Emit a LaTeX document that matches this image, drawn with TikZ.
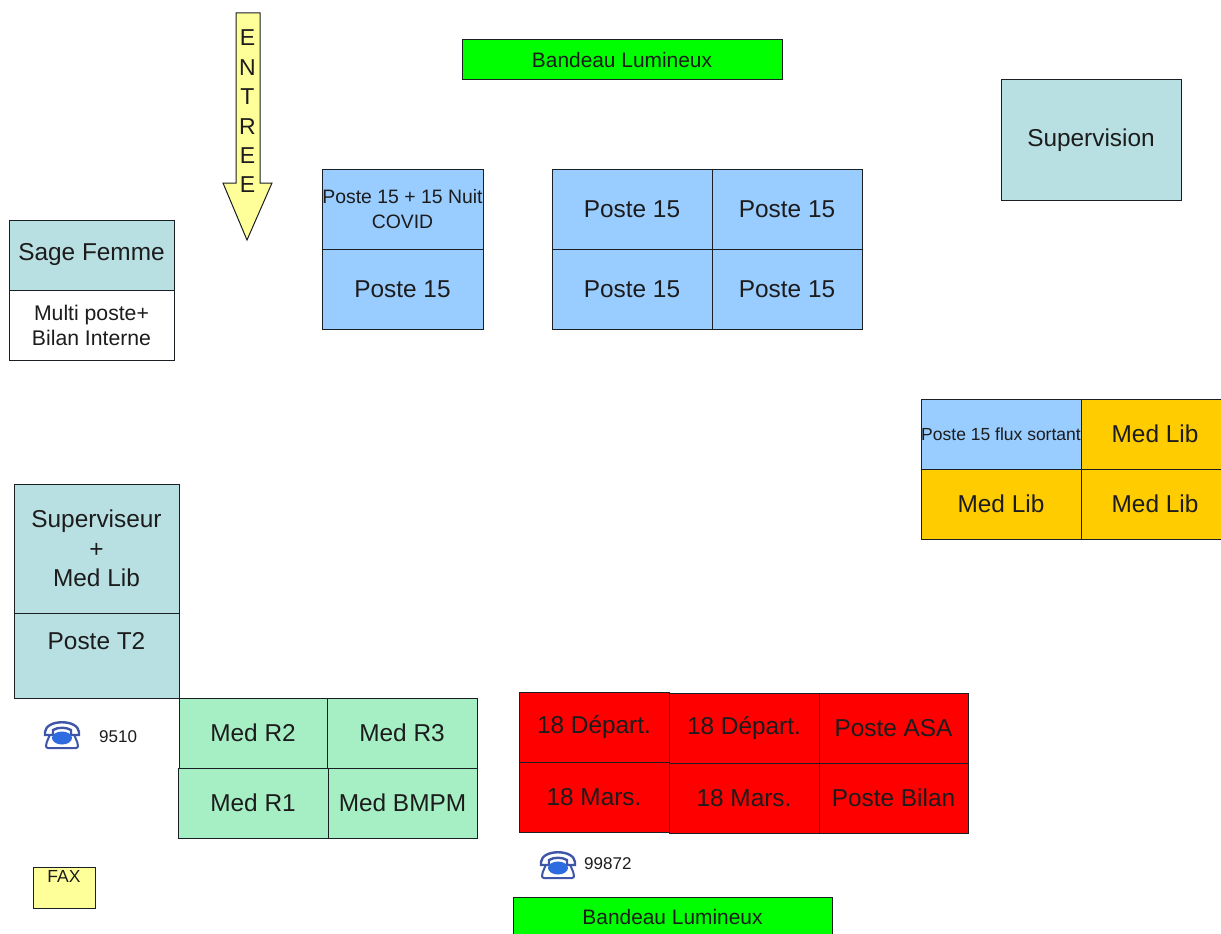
\documentclass[tikz,border=0pt]{standalone}
\usepackage{fontspec}
\setmainfont{Liberation Sans}
\definecolor{inkdark}{HTML}{1C1C1C}
\definecolor{edge}{HTML}{1A1F24}
\definecolor{bluecell}{HTML}{99CCFF}
\definecolor{tealcell}{HTML}{B8DFE2}
\definecolor{ambercell}{HTML}{FFCC00}
\definecolor{mintcell}{HTML}{A6EFC4}
\definecolor{redcell}{HTML}{FF0000}
\definecolor{greencell}{HTML}{00FF00}
\definecolor{yellowcell}{HTML}{FFFF99}
\definecolor{phoneline}{HTML}{3E55A8}
\definecolor{phonefill}{HTML}{2F6BE0}
\tikzset{
  cellbox/.style={draw=edge,line width=1pt,inner sep=0pt,outer sep=0pt,align=center,text=inkdark,font=\fontsize{24.4}{29.5}\selectfont},
  midtext/.style={font=\fontsize{20.9}{25}\selectfont},
  smalltext/.style={font=\fontsize{19.4}{25}\selectfont},
  tinytext/.style={font=\fontsize{17.5}{20}\selectfont},
  plaintext/.style={inner sep=0pt,text=inkdark,font=\fontsize{17}{20}\selectfont},
}
% \cell[options]{name}{x1}{y1}{x2}{y2}{text}
\newcommand{\cell}[7][]{%
  \node[cellbox,#1,minimum width={(#5-#3)*1pt},minimum height={(#6-#4)*1pt}] (#2) at ({(#3+#5)/2},{(#4+#6)/2}) {#7};}
\newcommand{\phoneicon}[2]{%
  \begin{scope}[shift={(#1,#2)}]
    \draw[phoneline,line width=2pt,fill=white,rounded corners=2pt] (-11,-3) -- (-6,-8) -- (6,-8) -- (11,-3) -- (16,9) -- (16,13) -- (-16,13) -- (-16,9) -- cycle;
    \draw[phoneline,line width=2.4pt,fill=white] (-17,-3) .. controls (-16,-16) and (16,-16) .. (17,-3) -- (17,0) -- (9,0) -- (9,-5) .. controls (4,-8) and (-4,-8) .. (-9,-5) -- (-9,0) -- (-17,0) -- cycle;
    \fill[phonefill] (0,3) ellipse [x radius=10,y radius=6.5];
  \end{scope}}
\begin{document}
\begin{tikzpicture}[x=1pt,y=-1pt]
\clip (0,0) rectangle (1221,934);
\fill[white] (0,0) rectangle (1221,934);
% entrance arrow
\draw[edge,line width=1pt,fill=yellowcell] (236,13) -- (260,13) -- (260,183) -- (272,183) -- (247,240) -- (223,183) -- (236,183) -- cycle;
\node[inner sep=0pt,align=center,text=inkdark,font=\fontsize{23}{29.4}\selectfont] (entree) at (247.5,111.5) {E\\N\\T\\R\\E\\E};
% banners
\cell[fill=greencell,midtext]{bandeauTop}{462}{40}{782}{80}{Bandeau Lumineux}
\cell[fill=greencell,midtext]{bandeauBot}{513}{897}{832}{937}{Bandeau Lumineux}
% supervision
\cell[fill=tealcell]{supervision}{1001}{80}{1181}{200}{Supervision}
% blue block left
\cell[fill=bluecell,smalltext]{covid}{322}{169}{483}{249}{Poste 15 + 15 Nuit\\COVID}
\cell[fill=bluecell]{pa}{322}{249}{483}{329}{Poste 15}
% blue block right
\cell[fill=bluecell]{pb}{552}{169}{712}{249}{Poste 15}
\cell[fill=bluecell]{pc}{712}{169}{862}{249}{Poste 15}
\cell[fill=bluecell]{pd}{552}{249}{712}{329}{Poste 15}
\cell[fill=bluecell]{pe}{712}{249}{862}{329}{Poste 15}
% sage femme
\cell[fill=tealcell]{sage}{9}{220}{174}{290}{Sage Femme}
\cell[fill=white,font=\fontsize{21.2}{25}\selectfont]{multi}{9}{290}{174}{360}{Multi poste+\\Bilan Interne}
% amber block
\cell[fill=bluecell,tinytext]{flux}{921}{399}{1081}{469}{Poste 15 flux sortant}
\cell[fill=ambercell]{la}{1081}{399}{1229}{469}{Med Lib}
\cell[fill=ambercell]{lb}{921}{469}{1081}{539}{Med Lib}
\cell[fill=ambercell]{lc}{1081}{469}{1229}{539}{Med Lib}
% superviseur
\cell[fill=tealcell]{superviseur}{14}{484}{179}{613}{Superviseur\\+\\Med Lib}
\cell[fill=tealcell,text depth=30pt]{t2}{14}{613}{179}{698}{Poste T2}
% mint block
\cell[fill=mintcell]{r2}{179}{698}{327}{768}{Med R2}
\cell[fill=mintcell]{r3}{327}{698}{477}{768}{Med R3}
\cell[fill=mintcell]{r1}{178}{768}{328}{838}{Med R1}
\cell[fill=mintcell]{bmpm}{328}{768}{477}{838}{Med BMPM}
% red block
\cell[fill=redcell]{da}{519}{692}{669}{762}{18 Départ.}
\cell[fill=redcell]{ma}{519}{762}{669}{832}{18 Mars.}
\cell[fill=redcell]{db}{669}{693}{819}{763}{18 Départ.}
\cell[fill=redcell]{mb}{669}{763}{819}{833}{18 Mars.}
\cell[fill=redcell]{asa}{819}{693}{968}{763}{Poste ASA}
\cell[fill=redcell]{bilan}{819}{763}{968}{833}{Poste Bilan}
% fax
\cell[fill=yellowcell,tinytext,text depth=23pt]{fax}{33}{867}{95}{908}{FAX}
% phones
\phoneicon{62}{735}
\node[plaintext,anchor=west] (n9510) at (99,737) {9510};
\phoneicon{558}{865}
\node[plaintext,anchor=west] (n99872) at (584,864) {99872};
\end{tikzpicture}
\end{document}
